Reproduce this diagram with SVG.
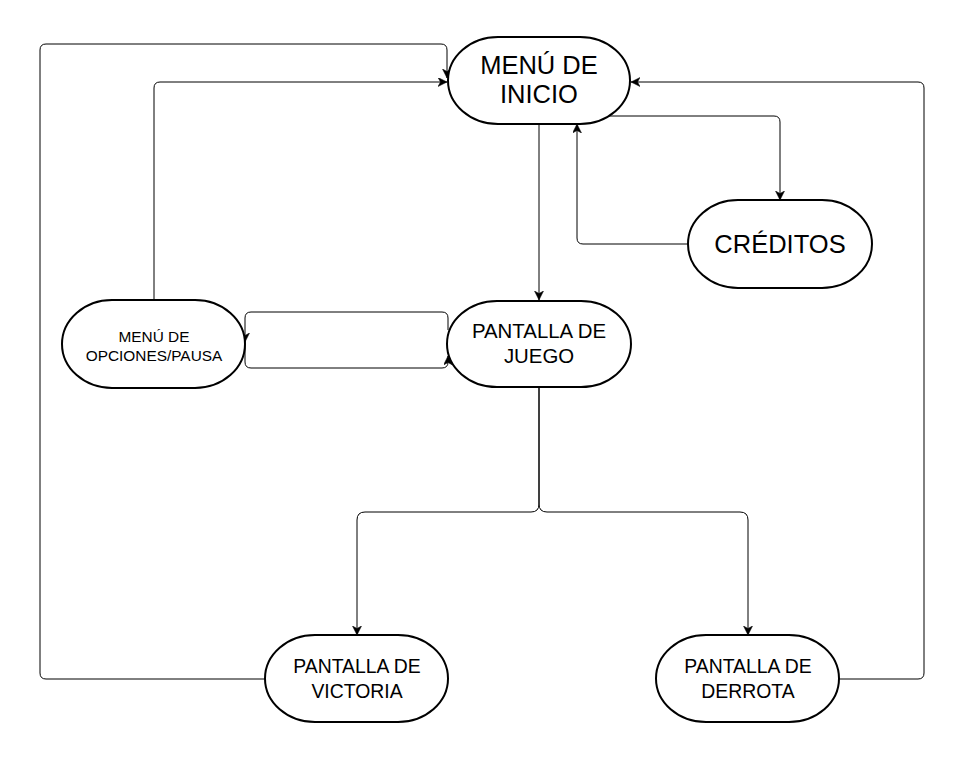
<svg xmlns="http://www.w3.org/2000/svg" width="966" height="760" viewBox="0 0 966 760">
<style>
.node{fill:#fff;stroke:#000;stroke-width:2}
.lbl{font-family:"Liberation Sans",Arial,sans-serif;fill:#000;text-anchor:middle}
.edge{fill:none;stroke:#000;stroke-width:1;marker-end:url(#arr)}
</style>
<defs>
<marker id="arr" markerUnits="userSpaceOnUse" markerWidth="12" markerHeight="10" refX="9" refY="4.5" orient="auto">
<path d="M0,0 L9,4.5 L0,9 L2.5,4.5 z" fill="#000" stroke="#000" stroke-width="0.5"/>
</marker>
</defs>
<rect width="966" height="760" fill="#fff"/>
<g id="connectors">
<path class="edge" d="M539,124 V300"/>
<path class="edge" d="M609,116 H774 Q780,116 780,122 V200"/>
<path class="edge" d="M688,244 H583 Q577,244 577,238 V124"/>
<path class="edge" d="M154,300 V88 Q154,82 160,82 H447"/>
<path class="edge" d="M265,679 H46 Q40,679 40,673 V50 Q40,44 46,44 H441 Q447,44 447,50 V78"/>
<path class="edge" d="M839,679 H918 Q924,679 924,673 V88 Q924,82 918,82 H631"/>
<path class="edge" d="M539,387 V504 Q539,512 531,512 H365 Q357,512 357,520 V635"/>
<path class="edge" d="M539,387 V504 Q539,512 547,512 H740 Q748,512 748,520 V635"/>
<path class="edge" d="M448,330 V318 Q448,312 442,312 H251 Q245,312 245,318 V342"/>
<path class="edge" d="M245,342 V362 Q245,368 251,368 H442 Q448,368 448,362 V356"/>
</g>
<g id="menu-inicio">
<rect class="node" x="448" y="37" width="182" height="87" rx="50" ry="43.5"/>
<text class="lbl" x="539" y="74" font-size="25.5">MENÚ DE</text>
<text class="lbl" x="539" y="103" font-size="25.5">INICIO</text>
</g>
<g id="creditos">
<rect class="node" x="688" y="200" width="184" height="88" rx="50" ry="44"/>
<text class="lbl" x="780" y="253" font-size="25.5">CRÉDITOS</text>
</g>
<g id="pantalla-juego">
<rect class="node" x="447" y="301" width="184" height="86" rx="50" ry="43"/>
<text class="lbl" x="539" y="338" font-size="20.4">PANTALLA DE</text>
<text class="lbl" x="539" y="363" font-size="20.4">JUEGO</text>
</g>
<g id="menu-opciones">
<rect class="node" x="62" y="300" width="183" height="88" rx="50" ry="44"/>
<text class="lbl" x="154" y="342" font-size="15.4">MENÚ DE</text>
<text class="lbl" x="154" y="361" font-size="15.4">OPCIONES/PAUSA</text>
</g>
<g id="pantalla-victoria">
<rect class="node" x="265" y="635" width="183" height="87" rx="50" ry="43.5"/>
<text class="lbl" x="357" y="673" font-size="19.4">PANTALLA DE</text>
<text class="lbl" x="357" y="698" font-size="19.4">VICTORIA</text>
</g>
<g id="pantalla-derrota">
<rect class="node" x="656" y="635" width="183" height="87" rx="50" ry="43.5"/>
<text class="lbl" x="748" y="673" font-size="19.4">PANTALLA DE</text>
<text class="lbl" x="748" y="698" font-size="19.4">DERROTA</text>
</g>
</svg>
